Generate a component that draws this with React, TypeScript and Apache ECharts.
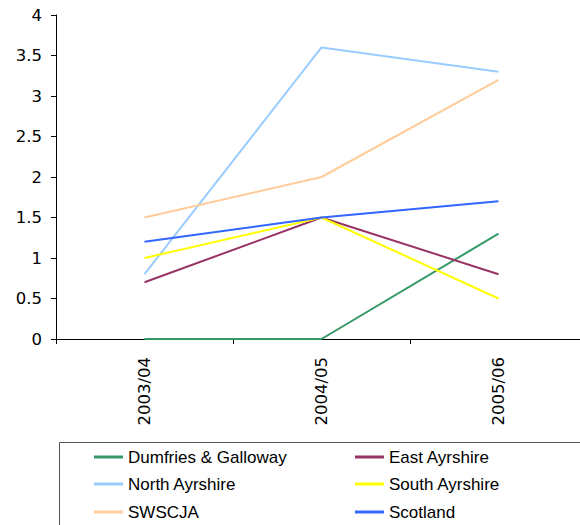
import React, { useEffect, useRef } from "react";
import * as echarts from "echarts";

const categories = ["2003/04", "2004/05", "2005/06"];
const seriesNames = ["Dumfries & Galloway", "East Ayrshire", "North Ayrshire", "South Ayrshire", "SWSCJA", "Scotland"];
const dumfries = [0, 0, 1.3];
const eastAyrshire = [0.7, 1.5, 0.8];
const northAyrshire = [0.8, 3.6, 3.3];
const southAyrshire = [1.0, 1.5, 0.5];
const swscja = [1.5, 2.0, 3.2];
const scotland = [1.2, 1.5, 1.7];
const colors = ["#339966", "#993366", "#99CCFF", "#FFFF00", "#FFCC99", "#3366FF"];
const yTicks = [0, 0.5, 1, 1.5, 2, 2.5, 3, 3.5, 4];

export default function App() {
  const ref = useRef<HTMLDivElement>(null);
  useEffect(() => {
    if (!ref.current) return;
    const chart = echarts.init(ref.current, null, { renderer: "svg" });
    const data = [dumfries, eastAyrshire, northAyrshire, southAyrshire, swscja, scotland];
    const legendPos = [
      { left: 94, top: 447 },
      { left: 355, top: 447 },
      { left: 94, top: 474 },
      { left: 355, top: 474 },
      { left: 94, top: 502 },
      { left: 355, top: 502 },
    ];
    chart.setOption({
      animation: false,
      grid: { left: 56, top: 15, right: 0, bottom: 186, containLabel: false },
      xAxis: {
        type: "category",
        data: categories,
        boundaryGap: true,
        axisLine: { lineStyle: { color: "#000", width: 1 } },
        axisTick: { show: true, length: 5, lineStyle: { color: "#000" } },
        axisLabel: { rotate: 90, margin: 18, fontFamily: "DejaVu Sans", fontSize: 16.5, color: "#000" },
      },
      yAxis: {
        type: "value",
        min: yTicks[0],
        max: yTicks[yTicks.length - 1],
        interval: 0.5,
        axisLine: { show: true, lineStyle: { color: "#000", width: 1 } },
        axisTick: { show: true, length: 5, lineStyle: { color: "#000" } },
        splitLine: { show: false },
        axisLabel: { margin: 14, fontFamily: "DejaVu Sans", fontSize: 16.5, color: "#000" },
      },
      legend: seriesNames.map((n, i) => ({
        data: [n],
        left: legendPos[i].left,
        top: legendPos[i].top,
        padding: 0,
        icon: "rect",
        itemWidth: 29,
        itemHeight: 3,
        textStyle: { fontFamily: "Liberation Sans", fontSize: 17, color: "#000", lineHeight: 20 },
      })),
      graphic: [
        {
          type: "rect",
          shape: { x: 59.5, y: 442.5, width: 600, height: 120 },
          style: { fill: "none", stroke: "#555", lineWidth: 1 },
          z: -1,
        },
      ],
      series: seriesNames.map((n, i) => ({
        name: n,
        type: "line",
        data: data[i],
        showSymbol: false,
        symbol: "none",
        lineStyle: { color: colors[i], width: 2 },
        itemStyle: { color: colors[i] },
      })),
    });
    return () => chart.dispose();
  }, []);
  return (
    <div style={{ position: "absolute", left: 0, top: 0, width: 580, height: 525, overflow: "hidden" }}>
      <div ref={ref} style={{ width: 587, height: 525 }} />
    </div>
  );
}
